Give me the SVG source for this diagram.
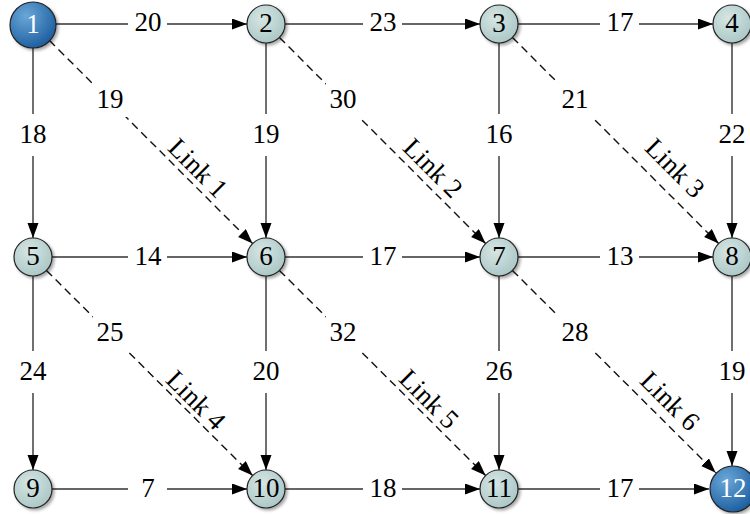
<svg xmlns="http://www.w3.org/2000/svg" width="750" height="514" viewBox="0 0 750 514">
<defs>
<radialGradient id="gGrey" cx="40%" cy="35%" r="70%">
<stop offset="0" stop-color="#d6e6e4"/>
<stop offset="1" stop-color="#a9c6c5"/>
</radialGradient>
<radialGradient id="gBlue" cx="35%" cy="30%" r="75%">
<stop offset="0" stop-color="#6aa7d8"/>
<stop offset="1" stop-color="#1b5d9f"/>
</radialGradient>
<marker id="arr" markerUnits="userSpaceOnUse" markerWidth="16" markerHeight="12" refX="15" refY="5.5" orient="auto">
<path d="M0,0 L15,5.5 L0,11 z" fill="#000"/>
</marker>
<filter id="sh" x="-30%" y="-30%" width="160%" height="160%">
<feDropShadow dx="2" dy="2" stdDeviation="1.5" flood-color="#000" flood-opacity="0.35"/>
</filter>
</defs>
<style>
.e{stroke:#333;stroke-width:1.4;fill:none;marker-end:url(#arr)}
.d{stroke:#111;stroke-dasharray:8,5}
.bg{fill:#fff}
.lb{font-family:"Liberation Serif","Times New Roman",serif;font-size:27px;fill:#000;text-anchor:middle;dominant-baseline:central}
.nt{font-family:"Liberation Serif","Times New Roman",serif;font-size:27px;fill:#000;text-anchor:middle;dominant-baseline:central}
.ng{fill:url(#gGrey);stroke:#222;stroke-width:1.2;filter:url(#sh)}
.nb{fill:url(#gBlue);stroke:#222;stroke-width:1.2;filter:url(#sh)}
</style>
<rect width="750" height="514" fill="#fff"/>
<g id="connectors">
<line class="e" x1="56" y1="24" x2="247" y2="24"/>
<line class="e" x1="285" y1="24" x2="480" y2="24"/>
<line class="e" x1="518" y1="24" x2="713" y2="24"/>
<line class="e" x1="52" y1="257" x2="247" y2="257"/>
<line class="e" x1="285" y1="257" x2="480" y2="257"/>
<line class="e" x1="518" y1="257" x2="713" y2="257"/>
<line class="e" x1="52" y1="489" x2="247" y2="489"/>
<line class="e" x1="285" y1="489" x2="480" y2="489"/>
<line class="e" x1="518" y1="489" x2="709" y2="489"/>
<line class="e" x1="33" y1="47" x2="33" y2="238"/>
<line class="e" x1="266" y1="43" x2="266" y2="238"/>
<line class="e" x1="499" y1="43" x2="499" y2="238"/>
<line class="e" x1="732" y1="43" x2="732" y2="238"/>
<line class="e" x1="33" y1="276" x2="33" y2="470"/>
<line class="e" x1="266" y1="276" x2="266" y2="470"/>
<line class="e" x1="499" y1="276" x2="499" y2="470"/>
<line class="e" x1="732" y1="276" x2="732" y2="466"/>
<line class="e d" x1="49.3" y1="40.3" x2="252.6" y2="243.6"/>
<line class="e d" x1="279.4" y1="37.4" x2="485.6" y2="243.6"/>
<line class="e d" x1="512.4" y1="37.4" x2="718.6" y2="243.6"/>
<line class="e d" x1="46.4" y1="270.4" x2="252.6" y2="475.6"/>
<line class="e d" x1="279.4" y1="270.4" x2="485.6" y2="475.6"/>
<line class="e d" x1="512.4" y1="270.4" x2="715.7" y2="472.7"/>
<rect class="bg" x="128" y="10" width="39" height="28"/>
<rect class="bg" x="363" y="10" width="39" height="28"/>
<rect class="bg" x="600" y="10" width="39" height="28"/>
<rect class="bg" x="128" y="243" width="39" height="28"/>
<rect class="bg" x="363" y="243" width="39" height="28"/>
<rect class="bg" x="600" y="243" width="39" height="28"/>
<rect class="bg" x="128" y="475" width="39" height="28"/>
<rect class="bg" x="363" y="475" width="39" height="28"/>
<rect class="bg" x="600" y="475" width="39" height="28"/>
<rect class="bg" x="17" y="114" width="32" height="42"/>
<rect class="bg" x="250" y="114" width="32" height="42"/>
<rect class="bg" x="483" y="114" width="32" height="42"/>
<rect class="bg" x="716" y="114" width="32" height="42"/>
<rect class="bg" x="17" y="351" width="32" height="42"/>
<rect class="bg" x="250" y="351" width="32" height="42"/>
<rect class="bg" x="483" y="351" width="32" height="42"/>
<rect class="bg" x="716" y="351" width="32" height="42"/>
<rect class="bg" x="93" y="83" width="34" height="34"/>
<rect class="bg" x="326" y="83" width="34" height="34"/>
<rect class="bg" x="558" y="83" width="34" height="34"/>
<rect class="bg" x="93" y="316" width="34" height="34"/>
<rect class="bg" x="326" y="316" width="34" height="34"/>
<rect class="bg" x="558" y="316" width="34" height="34"/>
<text class="lb" x="148" y="22">20</text>
<text class="lb" x="383" y="22">23</text>
<text class="lb" x="620" y="22">17</text>
<text class="lb" x="148" y="256">14</text>
<text class="lb" x="383" y="256">17</text>
<text class="lb" x="620" y="256">13</text>
<text class="lb" x="148" y="488">7</text>
<text class="lb" x="383" y="488">18</text>
<text class="lb" x="620" y="488">17</text>
<text class="lb" x="33" y="134">18</text>
<text class="lb" x="266" y="134">19</text>
<text class="lb" x="499" y="134">16</text>
<text class="lb" x="732" y="134">22</text>
<text class="lb" x="33" y="371">24</text>
<text class="lb" x="266" y="371">20</text>
<text class="lb" x="499" y="371">26</text>
<text class="lb" x="732" y="371">19</text>
<text class="lb" x="110" y="99">19</text>
<text class="lb" x="343" y="99">30</text>
<text class="lb" x="575" y="99">21</text>
<text class="lb" x="110" y="332">25</text>
<text class="lb" x="343" y="332">32</text>
<text class="lb" x="575" y="332">28</text>
<text class="lb" transform="translate(198,168) rotate(45)">Link 1</text>
<text class="lb" transform="translate(433,168) rotate(45)">Link 2</text>
<text class="lb" transform="translate(675,168) rotate(45)">Link 3</text>
<text class="lb" transform="translate(196,400) rotate(45)">Link 4</text>
<text class="lb" transform="translate(429,399) rotate(45)">Link 5</text>
<text class="lb" transform="translate(670,401) rotate(45)">Link 6</text>
</g>
<g id="n1"><circle class="nb" cx="33" cy="25" r="23"/><text class="nt" x="33" y="24" style="fill:#fff">1</text></g>
<g id="n2"><circle class="ng" cx="266" cy="24" r="19"/><text class="nt" x="266" y="23">2</text></g>
<g id="n3"><circle class="ng" cx="499" cy="24" r="19"/><text class="nt" x="499" y="23">3</text></g>
<g id="n4"><circle class="ng" cx="732" cy="24" r="19"/><text class="nt" x="732" y="23">4</text></g>
<g id="n5"><circle class="ng" cx="33" cy="257" r="19"/><text class="nt" x="33" y="256">5</text></g>
<g id="n6"><circle class="ng" cx="266" cy="257" r="19"/><text class="nt" x="266" y="256">6</text></g>
<g id="n7"><circle class="ng" cx="499" cy="257" r="19"/><text class="nt" x="499" y="256">7</text></g>
<g id="n8"><circle class="ng" cx="732" cy="257" r="19"/><text class="nt" x="732" y="256">8</text></g>
<g id="n9"><circle class="ng" cx="33" cy="489" r="19"/><text class="nt" x="33" y="488">9</text></g>
<g id="n10"><circle class="ng" cx="266" cy="489" r="19"/><text class="nt" x="266" y="488">10</text></g>
<g id="n11"><circle class="ng" cx="499" cy="489" r="19"/><text class="nt" x="499" y="488">11</text></g>
<g id="n12"><circle class="nb" cx="733" cy="489" r="23"/><text class="nt" x="733" y="488" style="fill:#fff">12</text></g>
</svg>
